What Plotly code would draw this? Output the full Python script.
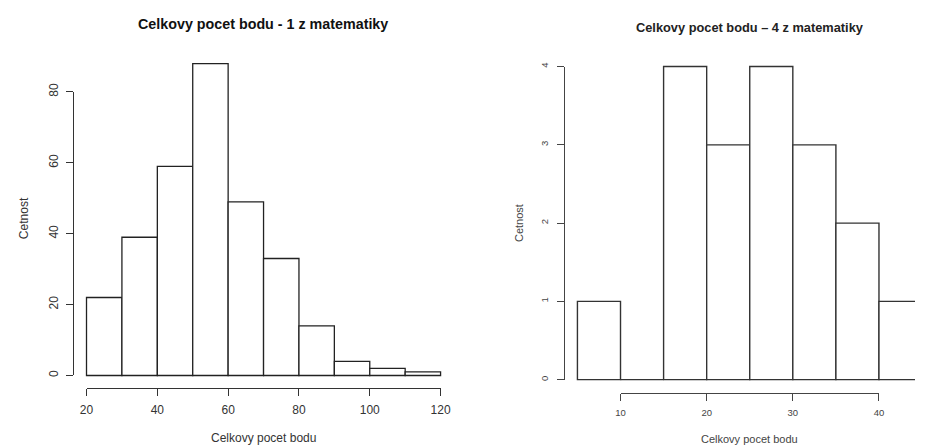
import plotly.graph_objects as go

W, H = 925, 448

# ---- data ----
left_bin_edges = [20, 30, 40, 50, 60, 70, 80, 90, 100, 110, 120]
left_counts = [22, 39, 59, 88, 49, 33, 14, 4, 2, 1]
left_xticks = [20, 40, 60, 80, 100, 120]
left_yticks = [0, 20, 40, 60, 80]

right_bin_edges = [5, 10, 15, 20, 25, 30, 35, 40, 45]
right_counts = [1, 0, 4, 3, 4, 3, 2, 1]
right_xticks = [10, 20, 30, 40]
right_yticks = [0, 1, 2, 3, 4]

left_title = "Celkovy pocet bodu - 1 z matematiky"
right_title = "Celkovy pocet bodu \u2013 4 z matematiky"
x_label = "Celkovy pocet bodu"
y_label = "Cetnost"


def fx(p):
    return p / W


def fy(p):
    return 1 - p / H


def mids(edges):
    return [(a + b) / 2 for a, b in zip(edges[:-1], edges[1:])]


def widths(edges):
    return [b - a for a, b in zip(edges[:-1], edges[1:])]


def lin_domain(v0, p0, v1, p1, lo, hi):
    """pixel positions of range lo..hi given v0->p0, v1->p1"""
    s = (p1 - p0) / (v1 - v0)
    return p0 + (lo - v0) * s, p0 + (hi - v0) * s


fig = go.Figure()

# ---------- LEFT ----------
LX0, LX1 = 81.0, 441.7      # px of 20 and 120
LY0, LY1 = 375.7, 85.0      # px of 0 and 80
lxr = [15, 125]
lyr = [-4, 92]
lxa, lxb = lin_domain(20, LX0, 120, LX1, *lxr)
lya, lyb = lin_domain(0, LY0, 80, LY1, *lyr)

fig.add_trace(go.Bar(
    x=mids(left_bin_edges), y=left_counts, width=widths(left_bin_edges),
    marker=dict(color="white", line=dict(color="#222", width=1.3)),
    xaxis="x", yaxis="y", showlegend=False, hoverinfo="skip"))
fig.add_trace(go.Scatter(x=[None], y=[None], xaxis="x2", yaxis="y2",
                         showlegend=False, hoverinfo="skip"))

# ---------- RIGHT ----------
RX0, RX1 = 625.0, 888.3     # px of 10 and 40
RY0, RY1 = 380.0, 59.0      # px of 0 and 4
rxa_px = 572.3
rs = (RX1 - RX0) / 30
rxr = [10 - (RX0 - rxa_px) / rs, 10 + (W - RX0) / rs]
ryr = [-0.3, 4.4]
rxa, rxb = lin_domain(10, RX0, 40, RX1, *rxr)
rya, ryb = lin_domain(0, RY0, 4, RY1, *ryr)

fig.add_trace(go.Bar(
    x=mids(right_bin_edges), y=right_counts, width=widths(right_bin_edges),
    marker=dict(color="white", line=dict(color="#333", width=1.4)),
    xaxis="x3", yaxis="y3", showlegend=False, hoverinfo="skip"))
fig.add_trace(go.Scatter(x=[None], y=[None], xaxis="x4", yaxis="y4",
                         showlegend=False, hoverinfo="skip"))

hidden = dict(visible=False, showgrid=False, zeroline=False, fixedrange=True)
disp = dict(showline=True, ticks="outside", showgrid=False, zeroline=False,
            anchor="free", fixedrange=True)

lfont = dict(family="Liberation Sans, Arial", size=12, color="#333")
rfont = dict(family="Liberation Sans, Arial", size=11, color="#444")
rtick = dict(family="Liberation Sans, Arial", size=9.5, color="#444")

fig.update_layout(
    width=W, height=H,
    margin=dict(l=0, r=0, t=0, b=0),
    paper_bgcolor="white", plot_bgcolor="rgba(0,0,0,0)",
    barmode="overlay",
    xaxis=dict(domain=[fx(lxa), fx(lxb)], range=lxr, anchor="y", **hidden),
    yaxis=dict(domain=[fy(lya), fy(lyb)], range=lyr, anchor="x", **hidden),
    xaxis2=dict(domain=[fx(LX0), fx(LX1)], range=[20, 120], position=fy(388.3),
                linecolor="#333", linewidth=1.2, tickcolor="#333", tickwidth=1.2,
                ticklen=7, tickvals=left_xticks, tickfont=lfont,
                ticklabelstandoff=4, **disp),
    yaxis2=dict(domain=[fy(LY0), fy(LY1)], range=[0, 80], position=fx(67.7),
                linecolor="#333", linewidth=1.2, tickcolor="#333", tickwidth=1.2,
                ticklen=7, tickvals=left_yticks, tickangle=-90, tickfont=lfont,
                ticklabelstandoff=4, **disp),
    xaxis3=dict(domain=[fx(rxa), fx(rxb)], range=rxr, anchor="y3", **hidden),
    yaxis3=dict(domain=[fy(rya), fy(ryb)], range=ryr, anchor="x3", **hidden),
    xaxis4=dict(domain=[fx(RX0), fx(RX1)], range=[10, 40], position=fy(393.3),
                linecolor="#444", linewidth=1.4, tickcolor="#444", tickwidth=1.4,
                ticklen=7, tickvals=right_xticks, tickfont=rtick,
                ticklabelstandoff=4, **disp),
    yaxis4=dict(domain=[fy(RY0), fy(RY1)], range=[0, 4], position=fx(567.3),
                linecolor="#444", linewidth=1.4, tickcolor="#444", tickwidth=1.4,
                ticklen=7, tickvals=right_yticks, tickangle=-90, tickfont=rtick,
                ticklabelstandoff=5, **disp),
)

ann = []
ann.append(dict(text="<b>" + left_title + "</b>", x=fx(261), y=fy(15),
                font=dict(family="Liberation Sans, Arial", size=14.3, color="#111")))
ann.append(dict(text=x_label, x=fx(261), y=fy(440), font=lfont))
ann.append(dict(text=y_label, x=fx(16.7), y=fy(214), textangle=-90, font=lfont))
ann.append(dict(text="<b>" + right_title + "</b>", x=fx(756.7), y=fy(19),
                font=dict(family="Liberation Sans, Arial", size=12.8, color="#222")))
ann.append(dict(text=x_label, x=fx(756.7), y=fy(440.7), font=rfont))
ann.append(dict(text=y_label, x=fx(521), y=fy(219), textangle=-90, font=rfont))
for a in ann:
    a.update(xref="paper", yref="paper", showarrow=False,
             xanchor="center", yanchor="middle")
fig.update_layout(annotations=ann)

fig.write_html("out.html")
